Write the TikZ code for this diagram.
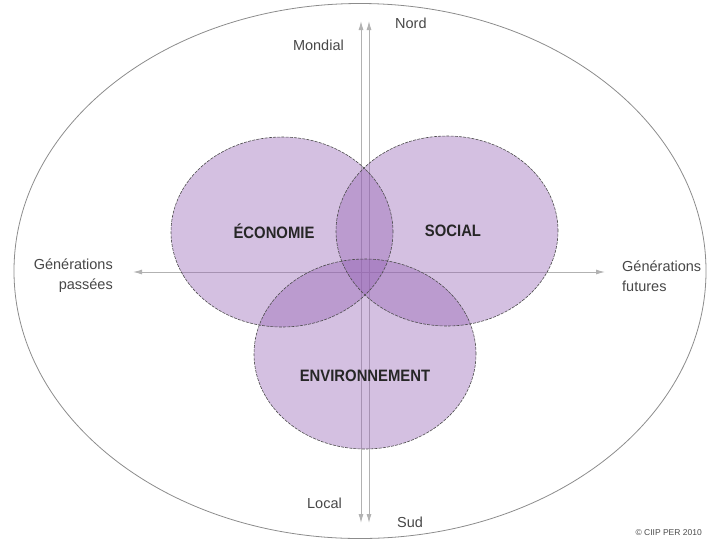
\documentclass[tikz,border=0pt]{standalone}
\usepackage{fontspec}
\setmainfont{Liberation Sans}
\usetikzlibrary{arrows.meta,shapes.geometric}
\definecolor{venn}{RGB}{148,98,180}
\definecolor{axisgray}{RGB}{178,178,178}
\begin{document}
\begin{tikzpicture}[x=1pt,y=-1pt,
  axisline/.style={draw=axisgray, line width=1pt, {Latex[length=9pt,width=5pt]}-{Latex[length=9pt,width=5pt]}},
  setfill/.style={ellipse, fill=venn, fill opacity=0.4, minimum width=222pt, minimum height=190pt, inner sep=0pt},
  setline/.style={ellipse, draw=black!70, dash pattern=on 3pt off 1.2pt, line width=0.6pt, minimum width=222pt, minimum height=190pt, inner sep=0pt},
  lab/.style={font=\fontsize{14.5}{20}\selectfont, text=black!72, inner sep=0pt},
  big/.style={font=\fontsize{16.5}{18}\selectfont\bfseries, text=black!85, inner sep=0pt}]
\useasboundingbox (0,0) rectangle (714,542);
% outer world ellipse
\node[ellipse, draw=black!45, line width=0.8pt, minimum width=692pt, minimum height=535pt, inner sep=0pt] (world) at (360,271) {};
% axes
\coordinate (mtop) at (361,21);
\coordinate (mbot) at (361,523);
\coordinate (ntop) at (369,21);
\coordinate (nbot) at (369,523);
\coordinate (west) at (133,272);
\coordinate (east) at (605,272);
\draw[axisline] (mbot) -- (mtop);
\draw[axisline] (nbot) -- (ntop);
\draw[axisline] (west) -- (east);
% venn fills
\node[setfill] (eco) at (282,232) {};
\node[setfill] (soc) at (447,231) {};
\node[setfill] (env) at (365,354) {};
% venn outlines
\node[setline] (ecoL) at (eco) {};
\node[setline] (socL) at (soc) {};
\node[setline] (envL) at (env) {};
% labels
\node[big] (tEco) at (274,231) {\scalebox{0.9}[1]{ÉCONOMIE}};
\node[big] (tSoc) at (453,231) {\scalebox{0.9}[1]{SOCIAL}};
\node[big] (tEnv) at (365,376) {\scalebox{0.9}[1]{ENVIRONNEMENT}};
\node[lab, anchor=east] (mondial) at (344,45) {Mondial};
\node[lab, anchor=west] (nord) at (395,23) {Nord};
\node[lab, anchor=east] (local) at (342,503) {Local};
\node[lab, anchor=west] (sud) at (397,522) {Sud};
\node[lab, anchor=east, align=right] (past) at (113,276) {Générations\\passées};
\node[lab, anchor=west, align=left] (future) at (622,276) {Générations\\futures};
\node[font=\fontsize{8.5}{10}\selectfont, text=black!70, inner sep=0pt, anchor=east] (copy) at (702,533) {© CIIP PER 2010};
\end{tikzpicture}
\end{document}
